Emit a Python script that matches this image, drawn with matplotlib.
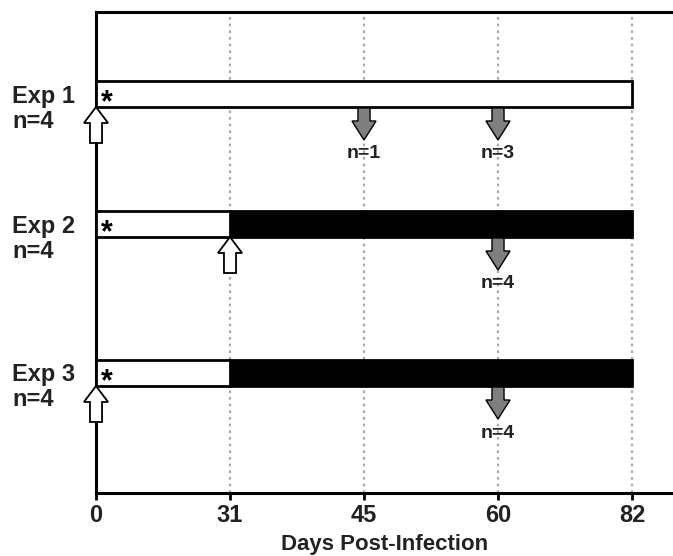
import matplotlib
import matplotlib.pyplot as plt
from matplotlib.patches import FancyArrow

matplotlib.use("Agg")
plt.rcParams["font.family"] = ["Liberation Sans", "DejaVu Sans"]
plt.rcParams["font.weight"] = "bold"

# data
days = [0, 31, 45, 60, 82]
experiments = ["Exp 1", "Exp 2", "Exp 3"]
group_n = [4, 4, 4]
white_end = [82, 31, 31]          # day where open bar ends
black_end = [82, 82, 82]          # day where filled bar ends
start_arrow_day = [0, 31, 0]      # open up-arrow
sample_days = [[45, 60], [60], [60]]
sample_n = [[1, 3], [4], [4]]

# layout (y in pixels from top of the axes)
row_y = [82, 212, 361]
bar_h = 26


def xpos(d):
    return days.index(d)


fig = plt.figure(figsize=(6.73, 5.56), dpi=100)
ax = fig.add_axes([96 / 673, 1 - 493 / 556, 1 - 96 / 673, 481 / 556])
ax.set_xlim(0, 577 / 134)
ax.set_ylim(481, 0)

for d in days[1:]:
    ax.axvline(xpos(d), color="#aaaaaa", ls=(0, (1.2, 1.8)), lw=1.6, zorder=0)

for i, name in enumerate(experiments):
    y = row_y[i]
    w = xpos(white_end[i])
    b = xpos(black_end[i])
    if b > w:
        ax.barh(y, b - w, left=w, height=bar_h, color="black",
                edgecolor="black", lw=2, zorder=2)
    ax.barh(y, w, left=0, height=bar_h, color="white",
            edgecolor="black", lw=2, zorder=3)
    ax.text(0.035, y + 9, "*", fontsize=22, fontweight="bold",
            ha="left", va="center", zorder=4)

    # open arrow: tip touches bottom of bar
    x0 = xpos(start_arrow_day[i])
    ax.add_patch(FancyArrow(x0, y + bar_h / 2 + 36, 0, -36, width=0.09,
                            head_width=0.18, head_length=16,
                            length_includes_head=True, fc="white",
                            ec="black", lw=1.3, zorder=5, clip_on=False))

    for d, n in zip(sample_days[i], sample_n[i]):
        xs = xpos(d)
        ytop = y + bar_h / 2 + 1
        ax.add_patch(FancyArrow(xs, ytop, 0, 32, width=0.09,
                                head_width=0.18, head_length=19,
                                length_includes_head=True, fc="#7f7f7f",
                                ec="black", lw=1.0, zorder=5))
        ax.text(xs, ytop + 46, f"n={n}", fontsize=14, ha="center",
                va="center", color="#222222", zorder=6)

    fig.text(12 / 673, 1 - (y + 12 + 2) / 556, name, fontsize=17,
             ha="left", va="center", color="#222222")
    fig.text(12 / 673, 1 - (y + 12 + 27) / 556, f"n={group_n[i]}",
             fontsize=17, ha="left", va="center", color="#222222")

ax.set_xticks(range(len(days)))
ax.set_xticklabels([str(d) for d in days], fontsize=17, color="#222222")
ax.set_yticks([])
ax.tick_params(axis="x", direction="out", length=5, width=2, pad=3)
ax.spines["right"].set_visible(False)
for s in ["left", "top", "bottom"]:
    ax.spines[s].set_linewidth(2.2)
ax.set_xlabel("Days Post-Infection", fontsize=16, fontweight="bold",
              color="#222222", labelpad=5)

fig.savefig("out.png", dpi=100)
